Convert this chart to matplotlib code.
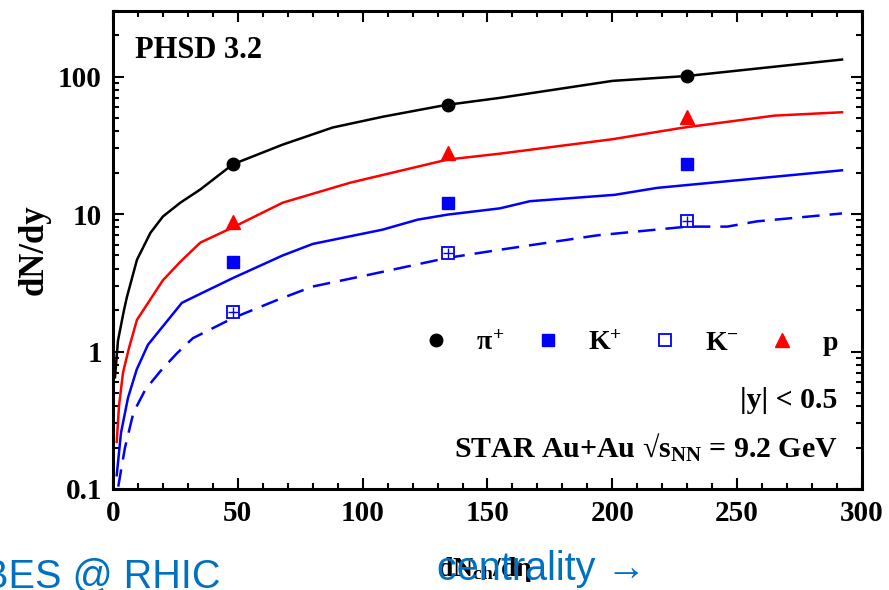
import numpy as np
import matplotlib
matplotlib.use("Agg")
from matplotlib import pyplot as plt

plt.rcParams['font.family'] = ['Liberation Serif', 'DejaVu Serif']
plt.rcParams['font.weight'] = 'bold'
plt.rcParams['mathtext.fontset'] = 'custom'
plt.rcParams['mathtext.rm'] = 'Liberation Serif:bold'
plt.rcParams['mathtext.it'] = 'Liberation Serif:bold'
plt.rcParams['mathtext.bf'] = 'Liberation Serif:bold'

# PHSD curves, dN/dy vs dNch/deta
pi_x = [0.8, 2.0, 4.4, 5.6, 9.6, 15, 20, 27, 35, 48, 68, 88, 108, 133, 155, 200, 230, 292]
pi_y = [0.65, 1.2, 2.0, 2.5, 4.65, 7.3, 9.6, 12.1, 15.1, 23, 32, 42.6, 51, 62, 70, 93, 101, 133]

p_x = [1.5, 2.4, 4.0, 6.4, 9.6, 15, 20, 27, 35, 48, 68, 95, 134, 155, 200, 228, 265, 292]
p_y = [0.22, 0.4, 0.7, 1.06, 1.7, 2.4, 3.3, 4.5, 6.2, 8.0, 12.1, 16.9, 24.9, 27.5, 35, 42.4, 52, 55]

kp_x = [1.5, 3.2, 6.0, 9.5, 14, 27.6, 35, 48, 68, 80, 108, 122, 134, 155, 167, 201, 218, 292]
kp_y = [0.126, 0.256, 0.46, 0.74, 1.12, 2.26, 2.63, 3.42, 5.0, 6.06, 7.7, 9.1, 9.9, 11, 12.4, 13.8, 15.5, 20.8]

km_x = [2.1, 4.8, 8.2, 13, 19, 25.6, 32, 48, 66, 80, 102, 134, 155, 194, 230, 246, 258, 292]
km_y = [0.104, 0.2, 0.36, 0.53, 0.72, 0.97, 1.25, 1.75, 2.38, 2.97, 3.6, 4.8, 5.5, 7.0, 8.1, 8.1, 8.85, 10.1]

# STAR data points
star_x = [48, 134, 230]
star_pi = [23, 62.6, 101]
star_kp = [4.5, 12.1, 23.3]
star_km = [1.95, 5.2, 8.95]
star_p = [8.8, 28, 50.4]

fig = plt.figure(figsize=(8.89, 5.9), dpi=100)
ax = fig.add_axes([0.1271, 0.1712, 0.8425, 0.8102])

ax.plot(pi_x, pi_y, color='black', lw=1.8)
ax.plot(p_x, p_y, color='red', lw=1.8)
ax.plot(kp_x, kp_y, color='blue', lw=1.8)
ax.plot(km_x, km_y, color='blue', lw=1.8, ls=(0, (7, 4)))

ax.plot(star_x, star_pi, 'o', color='black', ms=9, label=r'$\pi^{+}$')
ax.plot(star_x, star_kp, 's', color='blue', ms=8, label=r'K$^{+}$')
ax.plot(star_x, star_km, 's', mfc='white', mec='blue', mew=1.3, ms=8, label=r'K$^{-}$')
ax.plot(star_x, star_km, '+', color='blue', mew=1.0, ms=7)
ax.plot(star_x, star_p, '^', color='red', ms=10, label='p')

ax.set_yscale('log')
ax.set_xlim(0, 300)
ax.set_ylim(0.1, 300)
ax.set_xticks([0, 50, 100, 150, 200, 250, 300])
ax.set_xticks(np.arange(0, 301, 10), minor=True)
ax.set_yticks([0.1, 1, 10, 100])
ax.set_yticklabels(['0.1', '1', '10', '100'])
ax.tick_params(which='both', direction='in', top=True, right=True, width=1.5)
ax.tick_params(which='major', length=8, labelsize=21, pad=8)
ax.tick_params(which='minor', length=4.5)
for s in ax.spines.values():
    s.set_linewidth(2.2)

ax.set_ylabel('dN/dy', fontsize=25, fontweight='bold', labelpad=5)

ax.text(0.029, 0.918, 'PHSD 3.2', transform=ax.transAxes, fontsize=22,
        fontweight='bold', ha='left', va='center')
ax.text(0.967, 0.186, '|y| < 0.5', transform=ax.transAxes, fontsize=21.5,
        fontweight='bold', ha='right', va='center')
ax.text(0.967, 0.086, r'STAR Au+Au √s$_{\mathrm{NN}}$ = 9.2 GeV',
        transform=ax.transAxes, fontsize=21.5, fontweight='bold', ha='right', va='center')

ax.legend(loc='center right', bbox_to_anchor=(0.968, 0.305), ncol=4, frameon=False,
          fontsize=20, handlelength=1.0, handletextpad=0.95, columnspacing=1.05,
          borderpad=0, borderaxespad=0)

# axis title and slide captions at the bottom
fig.text(0.492, 0.035, r'dN$_{\mathrm{ch}}$/d$\eta$', fontsize=20, fontweight='bold',
         ha='left', va='center')
fig.text(0.492, 0.035, 'centrality →', fontsize=28.5, color='#0070C0',
         family=['Liberation Sans', 'DejaVu Sans'], fontweight='normal', ha='left', va='center')
fig.text(-0.02, 0.004, 'BES @ RHIC', fontsize=28.5, color='#0070C0',
         family=['Liberation Sans', 'DejaVu Sans'], fontweight='normal', ha='left', va='baseline')

fig.savefig('out.png', dpi=100)
